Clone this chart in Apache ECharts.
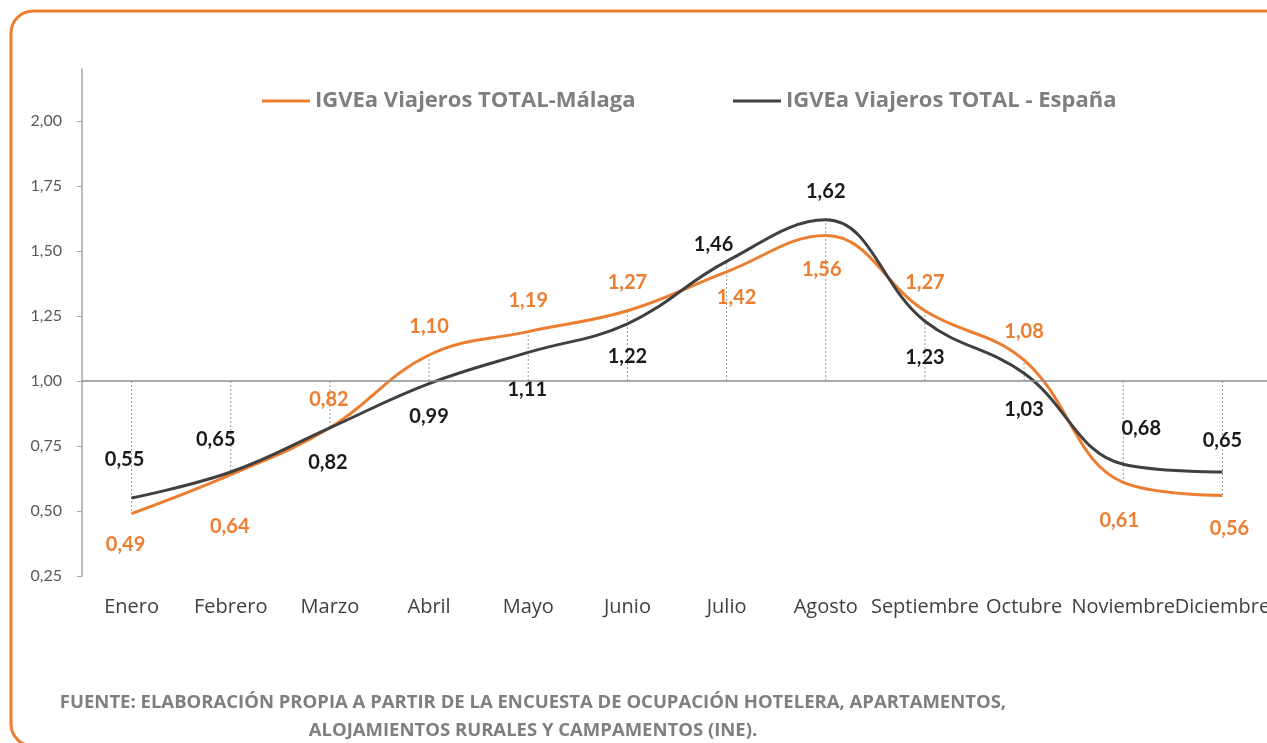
<!DOCTYPE html>
<html>
<head>
<meta charset="utf-8">
<script src="https://cdn.jsdelivr.net/npm/echarts@6/dist/echarts.min.js"></script>
<style>
html,body{margin:0;padding:0;background:#fff;}
#chart{width:1267px;height:743px;}
</style>
</head>
<body>
<div id="chart"></div>
<script>
const categories = ['Enero','Febrero','Marzo','Abril','Mayo','Junio','Julio','Agosto','Septiembre','Octubre','Noviembre','Diciembre'];
const malaga = [0.49,0.64,0.82,1.10,1.19,1.27,1.42,1.56,1.27,1.08,0.61,0.56];
const espana = [0.55,0.65,0.82,0.99,1.11,1.22,1.46,1.62,1.23,1.03,0.68,0.65];
const yTicks = [0.25,0.50,0.75,1.00,1.25,1.50,1.75,2.00];
const nameMalaga = 'IGVEa Viajeros TOTAL-Málaga';
const nameEspana = 'IGVEa Viajeros TOTAL - España';
const sourceLine1 = 'FUENTE: ELABORACIÓN PROPIA A PARTIR DE LA ENCUESTA DE OCUPACIÓN HOTELERA, APARTAMENTOS,';
const sourceLine2 = 'ALOJAMIENTOS RURALES Y CAMPAMENTOS (INE).';

// label placement (style): [dx, dy] offsets from the point
const malagaLabelOffset = [[-6,31],[-1,52],[-1,-28],[0,-28],[0,-31],[0,-28],[10,26],[-4,34],[0,-28],[0,-29],[-4,38],[7,33]];
const espanaLabelOffset = [[-7,-38],[-15,-32],[-2,35],[0,33],[-1,37],[0,33],[-13,-17],[0,-28],[0,36],[0,36],[18,-36],[0,-31]];

const ORANGE = '#ED7D31';
const DARK = '#404040';

function fmt(v){ return v.toFixed(2).replace('.', ','); }

function withLabels(values, offsets, color){
  return values.map((v,i)=>({
    value: v,
    label: {
      show: true,
      position: 'inside',
      offset: offsets[i],
      formatter: fmt(v),
      color: color,
      fontFamily: 'Lato',
      fontWeight: 'bold',
      fontSize: 20
    }
  }));
}

const dropData = categories.map((c,i)=>{
  const a = malaga[i], b = espana[i];
  const far = Math.abs(a-1) > Math.abs(b-1) ? a : b;
  return [i, far];
});

const legendText = { color: '#7f7f7f', fontFamily: 'Open Sans', fontWeight: 'bold', fontSize: 22 };

const chart = echarts.init(document.getElementById('chart'));
chart.setOption({
  animation: false,
  backgroundColor: '#fff',
  grid: { left: 82, width: 1190, top: 69, bottom: 167, containLabel: false, outerBoundsMode: 'none' },
  legend: [
    { data: [nameMalaga], left: 262, top: 90, padding: 0, icon: 'rect', itemWidth: 48, itemHeight: 3, textStyle: legendText },
    { data: [nameEspana], left: 733, top: 90, padding: 0, icon: 'rect', itemWidth: 48, itemHeight: 3, textStyle: legendText }
  ],
  xAxis: {
    type: 'category',
    data: categories,
    boundaryGap: true,
    axisLine: { show: false },
    axisTick: { show: false },
    axisLabel: { margin: 21, color: DARK, fontFamily: 'Open Sans', fontSize: 20, interval: 0 }
  },
  yAxis: {
    type: 'value',
    min: 0.25,
    max: 2.2,
    splitLine: { show: false },
    axisLine: { show: true, lineStyle: { color: '#a6a6a6', width: 1.5 } },
    axisTick: { show: true, length: 5, customValues: yTicks, lineStyle: { color: '#a6a6a6' } },
    axisLabel: { margin: 20, color: '#595959', fontFamily: 'Lato', fontSize: 16,
      customValues: yTicks, formatter: v => fmt(v) }
  },
  series: [
    {
      type: 'custom',
      silent: true,
      z: 1,
      data: dropData,
      encode: { x: 0, y: 1 },
      renderItem: function(params, api){
        const p0 = api.coord([api.value(0), 1]);
        const p1 = api.coord([api.value(0), api.value(1)]);
        return { type: 'line', shape: { x1: p0[0], y1: p0[1], x2: p1[0], y2: p1[1] },
          style: { stroke: '#9a9a9a', lineWidth: 1, lineDash: [2, 2] } };
      }
    },
    {
      name: nameMalaga,
      type: 'line',
      smooth: 0.4,
      symbol: 'circle',
      symbolSize: 0,
      z: 3,
      lineStyle: { color: ORANGE, width: 3 },
      itemStyle: { color: ORANGE },
      data: withLabels(malaga, malagaLabelOffset, ORANGE),
      markLine: {
        silent: true,
        symbol: 'none',
        label: { show: false },
        lineStyle: { color: '#8c8c8c', width: 1.5, type: 'solid' },
        data: [{ yAxis: 1 }]
      }
    },
    {
      name: nameEspana,
      type: 'line',
      smooth: 0.4,
      symbol: 'circle',
      symbolSize: 0,
      z: 4,
      lineStyle: { color: DARK, width: 3 },
      itemStyle: { color: DARK },
      data: withLabels(espana, espanaLabelOffset, '#1a1a1a')
    }
  ],
  graphic: [
    { type: 'rect', shape: { x: 11, y: 11, width: 1300, height: 735, r: 22 },
      style: { fill: 'none', stroke: ORANGE, lineWidth: 3 }, z: 0, silent: true },
    { type: 'text', x: 533, y: 703, style: { text: sourceLine1, align: 'center', verticalAlign: 'middle',
      fill: '#7f7f7f', font: 'bold 18.5px "Open Sans"' } },
    { type: 'text', x: 533, y: 731, style: { text: sourceLine2, align: 'center', verticalAlign: 'middle',
      fill: '#7f7f7f', font: 'bold 18.5px "Open Sans"' } }
  ]
});
</script>
</body>
</html>
